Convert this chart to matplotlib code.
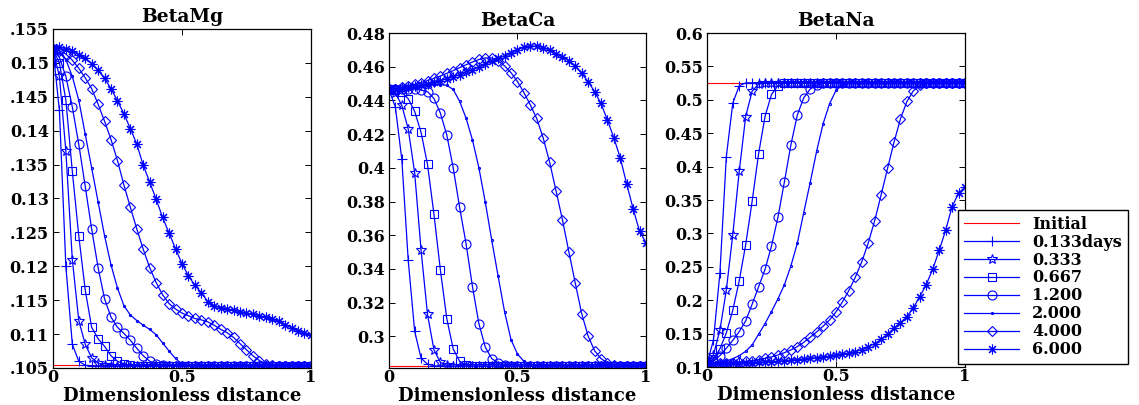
import matplotlib
matplotlib.use("Agg")
import matplotlib.pyplot as plt

# dimensionless distance grid
x = [0, 0.025, 0.05, 0.075, 0.1, 0.125, 0.15, 0.175, 0.2, 0.225,
     0.25, 0.275, 0.3, 0.325, 0.35, 0.375, 0.4, 0.425, 0.45, 0.475,
     0.5, 0.525, 0.55, 0.575, 0.6, 0.625, 0.65, 0.675, 0.7, 0.725,
     0.75, 0.775, 0.8, 0.825, 0.85, 0.875, 0.9, 0.925, 0.95, 0.975, 1.0]
init_x = [0, 1]

labels = ["Initial", "0.133days", "0.333", "0.667", "1.200", "2.000", "4.000", "6.000"]

# ---- BetaMg ----
mg_init = [0.1055, 0.1055]
mg_t1 = [0.152, 0.143, 0.120, 0.1085, 0.1060, 0.1054, 0.1053, 0.1053, 0.1053, 0.1053,
         0.1053, 0.1053, 0.1053, 0.1053, 0.1053, 0.1053, 0.1053, 0.1053, 0.1053, 0.1053,
         0.1053, 0.1053, 0.1053, 0.1053, 0.1053, 0.1053, 0.1053, 0.1053, 0.1053, 0.1053,
         0.1053, 0.1053, 0.1053, 0.1053, 0.1053, 0.1053, 0.1053, 0.1053, 0.1053, 0.1053, 0.1053]
mg_t2 = [0.152, 0.148, 0.137, 0.121, 0.112, 0.1085, 0.1065, 0.1057, 0.1054, 0.1053,
         0.1053, 0.1053, 0.1053, 0.1053, 0.1053, 0.1053, 0.1053, 0.1053, 0.1053, 0.1053,
         0.1053, 0.1053, 0.1053, 0.1053, 0.1053, 0.1053, 0.1053, 0.1053, 0.1053, 0.1053,
         0.1053, 0.1053, 0.1053, 0.1053, 0.1053, 0.1053, 0.1053, 0.1053, 0.1053, 0.1053, 0.1053]
mg_t3 = [0.152, 0.150, 0.1445, 0.134, 0.1245, 0.1165, 0.111, 0.1093, 0.1082, 0.1068,
         0.1060, 0.1056, 0.1054, 0.1053, 0.1053, 0.1053, 0.1053, 0.1053, 0.1053, 0.1053,
         0.1053, 0.1053, 0.1053, 0.1053, 0.1053, 0.1053, 0.1053, 0.1053, 0.1053, 0.1053,
         0.1053, 0.1053, 0.1053, 0.1053, 0.1053, 0.1053, 0.1053, 0.1053, 0.1053, 0.1053, 0.1053]
mg_t4 = [0.152, 0.1508, 0.148, 0.1435, 0.138, 0.1318, 0.1255, 0.1198, 0.1152, 0.1125,
         0.111, 0.1101, 0.1091, 0.1079, 0.1068, 0.1060, 0.1056, 0.1054, 0.1053, 0.1053,
         0.1053, 0.1053, 0.1053, 0.1053, 0.1053, 0.1053, 0.1053, 0.1053, 0.1053, 0.1053,
         0.1053, 0.1053, 0.1053, 0.1053, 0.1053, 0.1053, 0.1053, 0.1053, 0.1053, 0.1053, 0.1053]
mg_t5 = [0.152, 0.1515, 0.1505, 0.148, 0.1445, 0.1395, 0.1345, 0.1295, 0.1245, 0.1202,
         0.1168, 0.1142, 0.1128, 0.1120, 0.1113, 0.1107, 0.1099, 0.1087, 0.1075, 0.1064,
         0.1056, 0.1054, 0.1053, 0.1053, 0.1053, 0.1053, 0.1053, 0.1053, 0.1053, 0.1053,
         0.1053, 0.1053, 0.1053, 0.1053, 0.1053, 0.1053, 0.1053, 0.1053, 0.1053, 0.1053, 0.1053]
mg_t6 = [0.152, 0.1518, 0.1513, 0.1504, 0.1492, 0.1478, 0.1462, 0.1439, 0.1414, 0.1387,
         0.1356, 0.132, 0.1287, 0.1255, 0.1225, 0.1198, 0.1176, 0.1158, 0.1145, 0.1137,
         0.1131, 0.1127, 0.1123, 0.1121, 0.1118, 0.1113, 0.1107, 0.1102, 0.1095, 0.1086,
         0.1077, 0.1068, 0.1061, 0.1056, 0.1054, 0.1053, 0.1053, 0.1053, 0.1053, 0.1053, 0.1053]
mg_t7 = [0.1522, 0.1523, 0.1521, 0.1518, 0.1512, 0.1507, 0.1499, 0.1489, 0.1477, 0.1462,
         0.1444, 0.1425, 0.1403, 0.138, 0.1349, 0.1324, 0.1299, 0.1272, 0.1249, 0.1226,
         0.1204, 0.1186, 0.1172, 0.1161, 0.1148, 0.1141, 0.1139, 0.1137, 0.1135, 0.1133,
         0.1131, 0.1129, 0.1127, 0.1125, 0.1122, 0.1119, 0.1114, 0.1109, 0.1105, 0.1101, 0.1099]
mg_ticks = [0.105, 0.11, 0.115, 0.12, 0.125, 0.13, 0.135, 0.14, 0.145, 0.15, 0.155]
mg_ticklabels = [".105", "0.11", ".115", "0.12", ".125", "0.13", ".135", "0.14", ".145", "0.15", ".155"]

# ---- BetaCa ----
ca_init = [0.2826, 0.2826]
ca_t1 = [0.4465, 0.436, 0.405, 0.345, 0.303, 0.287, 0.2835, 0.2825, 0.2822, 0.2822,
         0.2822, 0.2822, 0.2822, 0.2822, 0.2822, 0.2822, 0.2822, 0.2822, 0.2822, 0.2822,
         0.2822, 0.2822, 0.2822, 0.2822, 0.2822, 0.2822, 0.2822, 0.2822, 0.2822, 0.2822,
         0.2822, 0.2822, 0.2822, 0.2822, 0.2822, 0.2822, 0.2822, 0.2822, 0.2822, 0.2822, 0.2822]
ca_t2 = [0.4465, 0.4445, 0.437, 0.423, 0.397, 0.351, 0.313, 0.292, 0.2845, 0.2828,
         0.2822, 0.2822, 0.2822, 0.2822, 0.2822, 0.2822, 0.2822, 0.2822, 0.2822, 0.2822,
         0.2822, 0.2822, 0.2822, 0.2822, 0.2822, 0.2822, 0.2822, 0.2822, 0.2822, 0.2822,
         0.2822, 0.2822, 0.2822, 0.2822, 0.2822, 0.2822, 0.2822, 0.2822, 0.2822, 0.2822, 0.2822]
ca_t3 = [0.4465, 0.4462, 0.4448, 0.441, 0.4335, 0.421, 0.402, 0.3725, 0.3395, 0.3105,
         0.2925, 0.2852, 0.2830, 0.2824, 0.2822, 0.2822, 0.2822, 0.2822, 0.2822, 0.2822,
         0.2822, 0.2822, 0.2822, 0.2822, 0.2822, 0.2822, 0.2822, 0.2822, 0.2822, 0.2822,
         0.2822, 0.2822, 0.2822, 0.2822, 0.2822, 0.2822, 0.2822, 0.2822, 0.2822, 0.2822, 0.2822]
ca_t4 = [0.4465, 0.4466, 0.4467, 0.4468, 0.4468, 0.4462, 0.4452, 0.4412, 0.4325, 0.4195,
         0.4, 0.3765, 0.355, 0.3295, 0.3075, 0.2935, 0.2868, 0.2840, 0.2828, 0.2824,
         0.2822, 0.2822, 0.2822, 0.2822, 0.2822, 0.2822, 0.2822, 0.2822, 0.2822, 0.2822,
         0.2822, 0.2822, 0.2822, 0.2822, 0.2822, 0.2822, 0.2822, 0.2822, 0.2822, 0.2822, 0.2822]
ca_t5 = [0.4465, 0.4467, 0.447, 0.4474, 0.4478, 0.4483, 0.4488, 0.4492, 0.4494, 0.449,
         0.4465, 0.4395, 0.4295, 0.4165, 0.4, 0.3795, 0.357, 0.3355, 0.3145, 0.298,
         0.2895, 0.2852, 0.2834, 0.2826, 0.2823, 0.2822, 0.2822, 0.2822, 0.2822, 0.2822,
         0.2822, 0.2822, 0.2822, 0.2822, 0.2822, 0.2822, 0.2822, 0.2822, 0.2822, 0.2822, 0.2822]
ca_t6 = [0.4465, 0.447, 0.4477, 0.4485, 0.4495, 0.4506, 0.4518, 0.4531, 0.4545, 0.4561,
         0.4577, 0.4595, 0.4612, 0.4628, 0.4643, 0.4652, 0.4652, 0.4635, 0.4605, 0.4565,
         0.4512, 0.4447, 0.4374, 0.4293, 0.4178, 0.4035, 0.3865, 0.3692, 0.3502, 0.3316,
         0.3135, 0.3002, 0.2915, 0.2868, 0.2842, 0.283, 0.2825, 0.2823, 0.2822, 0.2822, 0.2822]
ca_t7 = [0.4465, 0.4468, 0.4472, 0.4477, 0.4483, 0.449, 0.4498, 0.4507, 0.4517, 0.4528,
         0.454, 0.4553, 0.4567, 0.4582, 0.4598, 0.4615, 0.4632, 0.4649, 0.4665, 0.4683,
         0.4702, 0.4715, 0.4722, 0.4722, 0.4714, 0.4699, 0.4678, 0.4659, 0.4637, 0.4603,
         0.4561, 0.4512, 0.4453, 0.4382, 0.4285, 0.4178, 0.406, 0.3905, 0.3758, 0.3625, 0.3555]
ca_ticks = [0.3, 0.32, 0.34, 0.36, 0.38, 0.4, 0.42, 0.44, 0.46, 0.48]
ca_ticklabels = ["0.3", "0.32", "0.34", "0.36", "0.38", "0.4", "0.42", "0.44", "0.46", "0.48"]

# ---- BetaNa ----
na_init = [0.5254, 0.5254]
na_t1 = [0.105, 0.14, 0.24, 0.415, 0.495, 0.521, 0.5253, 0.5255, 0.5255, 0.5255,
         0.5255, 0.5255, 0.5255, 0.5255, 0.5255, 0.5255, 0.5255, 0.5255, 0.5255, 0.5255,
         0.5255, 0.5255, 0.5255, 0.5255, 0.5255, 0.5255, 0.5255, 0.5255, 0.5255, 0.5255,
         0.5255, 0.5255, 0.5255, 0.5255, 0.5255, 0.5255, 0.5255, 0.5255, 0.5255, 0.5255, 0.5255]
na_t2 = [0.105, 0.118, 0.155, 0.215, 0.298, 0.393, 0.475, 0.513, 0.5235, 0.5253,
         0.5255, 0.5255, 0.5255, 0.5255, 0.5255, 0.5255, 0.5255, 0.5255, 0.5255, 0.5255,
         0.5255, 0.5255, 0.5255, 0.5255, 0.5255, 0.5255, 0.5255, 0.5255, 0.5255, 0.5255,
         0.5255, 0.5255, 0.5255, 0.5255, 0.5255, 0.5255, 0.5255, 0.5255, 0.5255, 0.5255, 0.5255]
na_t3 = [0.105, 0.112, 0.127, 0.151, 0.185, 0.229, 0.283, 0.348, 0.419, 0.475,
         0.508, 0.521, 0.5245, 0.5253, 0.5255, 0.5255, 0.5255, 0.5255, 0.5255, 0.5255,
         0.5255, 0.5255, 0.5255, 0.5255, 0.5255, 0.5255, 0.5255, 0.5255, 0.5255, 0.5255,
         0.5255, 0.5255, 0.5255, 0.5255, 0.5255, 0.5255, 0.5255, 0.5255, 0.5255, 0.5255, 0.5255]
na_t4 = [0.105, 0.109, 0.117, 0.128, 0.14, 0.153, 0.169, 0.194, 0.22, 0.246,
         0.281, 0.324, 0.377, 0.432, 0.477, 0.503, 0.516, 0.522, 0.5245, 0.5253,
         0.5255, 0.5255, 0.5255, 0.5255, 0.5255, 0.5255, 0.5255, 0.5255, 0.5255, 0.5255,
         0.5255, 0.5255, 0.5255, 0.5255, 0.5255, 0.5255, 0.5255, 0.5255, 0.5255, 0.5255, 0.5255]
na_t5 = [0.105, 0.1055, 0.107, 0.109, 0.1125, 0.117, 0.1235, 0.133, 0.149, 0.165,
         0.183, 0.202, 0.223, 0.251, 0.285, 0.331, 0.376, 0.423, 0.464, 0.494,
         0.514, 0.5225, 0.525, 0.5255, 0.5255, 0.5255, 0.5255, 0.5255, 0.5255, 0.5255,
         0.5255, 0.5255, 0.5255, 0.5255, 0.5255, 0.5255, 0.5255, 0.5255, 0.5255, 0.5255, 0.5255]
na_t6 = [0.105, 0.1052, 0.1055, 0.106, 0.1066, 0.1074, 0.1084, 0.1097, 0.1112, 0.113,
         0.1152, 0.118, 0.1215, 0.1255, 0.1305, 0.137, 0.1445, 0.1525, 0.161, 0.1705,
         0.1825, 0.1975, 0.2145, 0.2345, 0.2575, 0.2855, 0.319, 0.3575, 0.3975, 0.4365,
         0.4715, 0.4975, 0.5135, 0.5215, 0.5245, 0.5253, 0.5255, 0.5255, 0.5255, 0.5255, 0.5255]
na_t7 = [0.105, 0.105, 0.1051, 0.1052, 0.1054, 0.1057, 0.106, 0.1064, 0.1069, 0.1074,
         0.108, 0.1087, 0.1095, 0.1103, 0.1112, 0.1121, 0.1131, 0.114, 0.115, 0.1162,
         0.1176, 0.1192, 0.121, 0.1232, 0.1262, 0.1302, 0.135, 0.1412, 0.1492, 0.1582,
         0.1665, 0.1755, 0.1885, 0.2055, 0.2235, 0.2465, 0.2745, 0.3045, 0.34, 0.36, 0.3695]
na_ticks = [0.1, 0.15, 0.2, 0.25, 0.3, 0.35, 0.4, 0.45, 0.5, 0.55, 0.6]
na_ticklabels = ["0.1", "0.15", "0.2", "0.25", "0.3", "0.35", "0.4", "0.45", "0.5", "0.55", "0.6"]

xticks = [0, 0.5, 1]
xticklabels = ["0", "0.5", "1"]

plt.rcParams["font.family"] = ["DejaVu Serif"]
plt.rcParams["font.weight"] = "bold"

markers = ["+", "*", "s", "o", ".", "D", (8, 2, 0)]
msizes = [7, 7.5, 5.5, 6.5, 3, 5, 7]

fig = plt.figure(figsize=(11.39, 4.05), dpi=100)
positions = [[0.0465, 0.0914, 0.2265, 0.837],
             [0.3415, 0.0914, 0.2256, 0.827],
             [0.6207, 0.0938, 0.2265, 0.8247]]

panels = [
    ("BetaMg", mg_init, [mg_t1, mg_t2, mg_t3, mg_t4, mg_t5, mg_t6, mg_t7], mg_ticks, mg_ticklabels, (0.105, 0.155)),
    ("BetaCa", ca_init, [ca_t1, ca_t2, ca_t3, ca_t4, ca_t5, ca_t6, ca_t7], ca_ticks, ca_ticklabels, (0.2812, 0.48)),
    ("BetaNa", na_init, [na_t1, na_t2, na_t3, na_t4, na_t5, na_t6, na_t7], na_ticks, na_ticklabels, (0.1, 0.6)),
]

handles = []
for k, (title, init, series, yt, ytl, ylim) in enumerate(panels):
    ax = fig.add_axes(positions[k])
    h0, = ax.plot(init_x, init, color="#ff0000", lw=0.8)
    hs = [h0]
    for i, ys in enumerate(series):
        h, = ax.plot(x, ys, color="#0000ff", lw=0.9, marker=markers[i], ms=msizes[i],
                     mfc="none", mec="#0000ff", mew=0.8)
        hs.append(h)
    if k == 0:
        handles = hs
    ax.set_xlim(0, 1)
    ax.set_ylim(*ylim)
    ax.set_xticks(xticks)
    ax.set_xticklabels(xticklabels)
    ax.set_yticks(yt)
    ax.set_yticklabels(ytl)
    ax.tick_params(direction="in", top=True, right=True, length=4, width=0.7,
                   labelsize=11.5, pad=3)
    ax.tick_params(axis="x", pad=1)
    for s in ax.spines.values():
        s.set_linewidth(0.9)
    ax.set_title(title, fontsize=13.5, fontweight="bold", pad=5)
    ax.set_xlabel("Dimensionless distance", fontsize=13, fontweight="bold", labelpad=0.5)

leg = fig.legend(handles, labels, loc="upper left", bbox_to_anchor=(958 / 1139, 1 - 210 / 405),
                 fontsize=11.5, handlelength=3.5, labelspacing=0.06, borderpad=0.35,
                 borderaxespad=0, fancybox=False, framealpha=1, edgecolor="black")
leg.get_frame().set_linewidth(1.0)

fig.savefig("out.png", dpi=100)
